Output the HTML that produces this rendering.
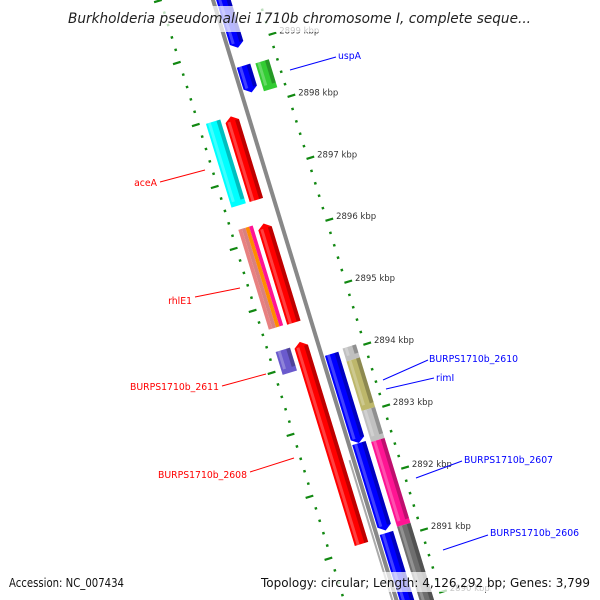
<!DOCTYPE html>
<html><head><meta charset="utf-8"><style>
html,body{margin:0;padding:0;background:#fff;width:600px;height:600px;overflow:hidden}
svg{display:block;font-family:"DejaVu Sans","Liberation Sans",sans-serif}
</style></head><body>
<svg id="map" width="600" height="600" viewBox="0 0 600 600">
<g id="rot" transform="translate(213,0) rotate(-17)"></g>
<g id="ann"></g>
<rect x="60" y="6" width="480" height="26" fill="#fff" opacity="0.72"/>
<text x="68" y="23" textLength="463" lengthAdjust="spacingAndGlyphs" font-size="14" font-style="italic" fill="#222">Burkholderia pseudomallei 1710b chromosome I, complete seque...</text>
<rect x="4" y="572" width="592" height="20" fill="#fff" opacity="0.72"/>
<text x="9" y="587" textLength="115" lengthAdjust="spacingAndGlyphs" font-size="12" fill="#111">Accession: NC_007434</text>
<text x="261" y="587" textLength="329" lengthAdjust="spacingAndGlyphs" font-size="12" fill="#111">Topology: circular; Length: 4,126,292 bp; Genes: 3,799</text>
</svg>
<script>
const geneNames=["blue-a","blue-b","green-uspA","cyan-aceA","red-a","red-b","purple-2611","red-2608","blue-2610","blue-2607","blue-2606","gray-a","khaki-riml","gray-b","pink-2607","darkgray-2606"];
const geneStart=[2900.1,2898.66,2898.64,2897.97,2897.97,2896.24,2894.29,2894.33,2894.01,2892.57,2891.12,2894.04,2893.83,2893.03,2892.53,2891.16];
const geneEnd=[2898.95,2898.23,2898.19,2896.62,2896.62,2894.64,2893.92,2891.07,2892.57,2891.16,2889.6,2893.83,2893.03,2892.53,2891.16,2889.6];
const geneTrack=[1,1,2,-2,-1,-1,-2,-1,1,1,1,2,2,2,2,2];
const geneColor=["#0000ff","#0000ff","#33cc33","#00ffff","#ff0000","#ff0000","#6a5acd","#ff0000","#0000ff","#0000ff","#0000ff","#c0c0c0","#bdb76b","#c0c0c0","#ff1493","#6e6e6e"];
const geneArrow=[1,1,0,0,-1,-1,0,-1,1,1,0,0,0,0,0,0];
const stripeStart=[2896.26];const stripeEnd=[2894.65];
const stripeColors=["#e88080","#d98080","#ff8c00","#ff1493"];
const tickMajors=[2899,2898,2897,2896,2895,2894,2893,2892,2891,2890];
const NS="http://www.w3.org/2000/svg";
const g=document.getElementById('rot'), ann=document.getElementById('ann');
function yOf(p){return 49.7+(2899-p)*64.8;}
const trackX={"1":[3,17],"2":[22,36],"-1":[-24,-10],"-2":[-43,-28]};
function mk(tag,attrs,parent){const e=document.createElementNS(NS,tag);for(const k in attrs)e.setAttribute(k,attrs[k]);parent.appendChild(e);return e;}
function toScreen(x,y){const a=-17*Math.PI/180;return [213+x*Math.cos(a)-y*Math.sin(a), x*Math.sin(a)+y*Math.cos(a)];}
let bb=mk('line',{x1:0,y1:-20,x2:0,y2:680,stroke:'#888',"stroke-width":4},g);


let bb2=mk('line',{x1:-4,y1:480,x2:-4,y2:680,stroke:'#aaa',"stroke-width":2},g);


for(let i=0;i<=60;i++){
  const p=2900-i*0.2; const y=yOf(p); const major=Math.abs(p-Math.round(p))<0.01;
  const len=major?8:2.5, w=major?2.2:2.4;
  let t1=mk('line',{x1:43,y1:y,x2:43+len,y2:y,stroke:'#118811',"stroke-width":w},g);
  
  
  let t2=mk('line',{x1:-49-len,y1:y,x2:-49,y2:y,stroke:'#118811',"stroke-width":w},g);
  
  
}
tickMajors.forEach(p=>{
  const [sx,sy]=toScreen(52,yOf(p));
  let t=mk('text',{x:sx+2,y:sy+1,"font-size":8.5,fill:'#333'},ann);
  t.textContent=p+' kbp';
  
  
});
geneNames.forEach((n,i)=>{
  const [x0,x1]=trackX[geneTrack[i]]; const ya=yOf(geneStart[i]), yb=yOf(geneEnd[i]);
  const xm=(x0+x1)/2, h=5; let pts;
  if(geneArrow[i]===1) pts=[[x0,ya],[x1,ya],[x1,yb-h],[xm,yb],[x0,yb-h]];
  else if(geneArrow[i]===-1) pts=[[xm,ya],[x1,ya+h],[x1,yb],[x0,yb],[x0,ya+h]];
  else pts=[[x0,ya],[x1,ya],[x1,yb],[x0,yb]];
  let el=mk('polygon',{points:pts.map(p=>p.join(',')).join(' '),fill:geneColor[i]},g);
  
  
  let sh=mk('rect',{x:x1-4,y:ya+(geneArrow[i]===-1?h:0),width:4,height:Math.max(0,yb-ya-h),fill:'rgba(0,0,0,0.25)'},g);
  
  
  let hl=mk('rect',{x:x0+2,y:ya+(geneArrow[i]===-1?h:0),width:3,height:Math.max(0,yb-ya-h),fill:'rgba(255,255,255,0.25)'},g);
  
  
});
stripeColors.forEach((c,k)=>{
  const ya=yOf(stripeStart[0]), yb=yOf(stripeEnd[0]); const w=15/stripeColors.length;
  let r=mk('rect',{x:-43+k*w,y:ya,width:w,height:yb-ya,fill:c},g);
  
  
});
const labels=[["uspA","#0000ff",338,59,290,70,336,57,"start"],["aceA","#ff0000",157,186,160,182,205,170,"end"],["rhlE1","#ff0000",192,304,195,297,240,288,"end"],["BURPS1710b_2611","#ff0000",219,390,222,386,266,374,"end"],["BURPS1710b_2608","#ff0000",247,478,250,472,294,458,"end"],["BURPS1710b_2610","#0000ff",429,362,383,380,428,360,"start"],["rimI","#0000ff",436,381,386,389,434,378,"start"],["BURPS1710b_2607","#0000ff",464,463,416,478,462,461,"start"],["BURPS1710b_2606","#0000ff",490,536,443,550,488,535,"start"]];
labels.forEach(l=>{
  let ln=mk('line',{x1:l[4],y1:l[5],x2:l[6],y2:l[7],stroke:l[1],"stroke-width":1},ann);
  
  
  let t=mk('text',{x:l[2],y:l[3],fill:l[1],"font-size":9.3,"text-anchor":l[8]},ann);
  t.textContent=l[0];
  
  
});
</script>
</body></html>
